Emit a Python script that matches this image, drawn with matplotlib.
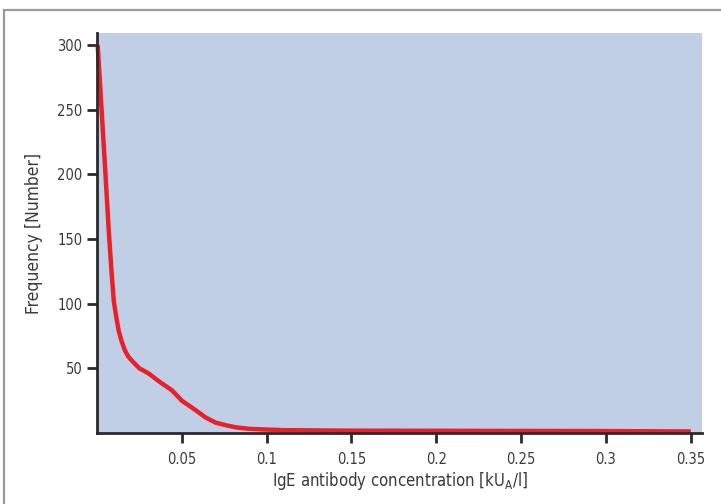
import matplotlib.pyplot as plt
from matplotlib.patches import Rectangle

# values
conc = [0.0004, 0.0027, 0.0050, 0.0069, 0.0085, 0.0099, 0.0113, 0.0128, 0.0145,
        0.0164, 0.0185, 0.0205, 0.0250, 0.0305, 0.0370, 0.0442, 0.0500, 0.0583,
        0.0640, 0.0700, 0.0760, 0.0821, 0.0900, 0.0973, 0.1100, 0.1500, 0.2000,
        0.2500, 0.3000, 0.3500]
freq = [300, 250, 200, 157, 126, 102, 90, 79, 71,
        64, 59, 56, 50, 46, 39.5, 33, 25, 17.5,
        12, 8, 6, 4.3, 3.2, 2.8, 2.2, 1.8, 1.7,
        1.6, 1.5, 1.2]

xticks = [0.05, 0.1, 0.15, 0.2, 0.25, 0.3, 0.35]
xtick_labels = ['0.05', '0.1', '0.15', '0.2', '0.25', '0.3', '0.35']
yticks = [50, 100, 150, 200, 250, 300]

plt.rcParams['font.family'] = ['DejaVu Sans']
plt.rcParams['font.stretch'] = 'condensed'

fig = plt.figure(figsize=(7.21, 5.04), dpi=100)
# grey frame round the figure
fig.patches.append(Rectangle((4 / 721, -0.1), 1.2, 1.1 - 10 / 504,
                             transform=fig.transFigure, fill=False,
                             edgecolor='#9a9a9a', linewidth=1.6))

ax = fig.add_axes([97 / 721, 1 - 433 / 504, 605 / 721, 400 / 504])
ax.set_facecolor('#c0cfe6')
ax.plot(conc, freq, color='#e8202a', linewidth=3.2, solid_capstyle='butt', clip_on=False)

ax.set_xlim(0, 0.3566)
ax.set_ylim(0, 309.3)
ax.set_xticks(xticks)
ax.set_xticklabels(xtick_labels)
ax.set_yticks(yticks)

for s in ['top', 'right']:
    ax.spines[s].set_visible(False)
for s in ['left', 'bottom']:
    ax.spines[s].set_linewidth(2)
    ax.spines[s].set_color('#2a2a2a')
ax.tick_params(direction='out', length=7, width=2, color='#2a2a2a',
               labelsize=10.5, labelcolor='#3a3a3a')
ax.tick_params(axis='x', pad=7)
ax.tick_params(axis='y', pad=3.5)

ax.set_xlabel(r'IgE antibody concentration [kU$_\mathregular{A}$/l]',
              fontsize=12, color='#3a3a3a', labelpad=2)
ax.set_ylabel('Frequency [Number]', fontsize=12.5, color='#3a3a3a', labelpad=10)

fig.savefig('out.png', dpi=100)
